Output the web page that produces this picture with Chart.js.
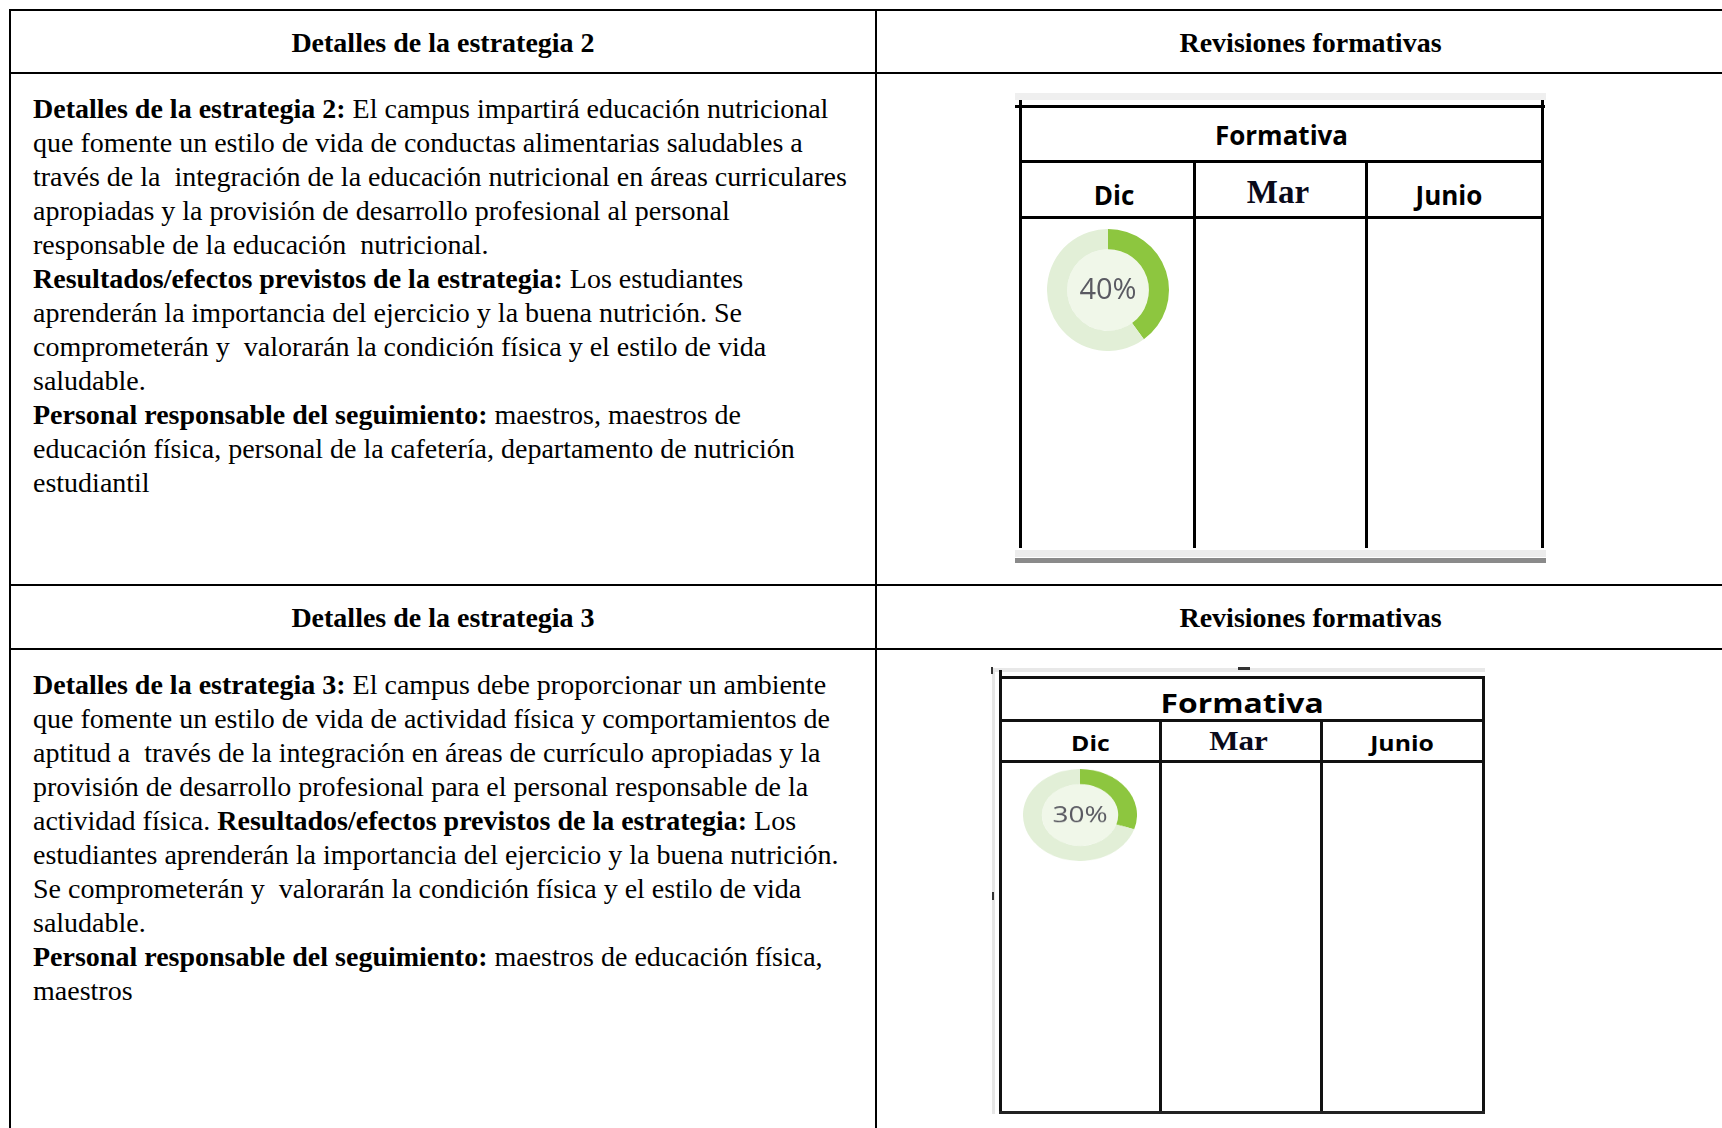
<!DOCTYPE html>
<html lang="es">
<head>
<meta charset="utf-8">
<title>Revisiones formativas</title>
<script src="https://cdn.jsdelivr.net/npm/chart.js@4.4.1/dist/chart.umd.min.js"></script>
<style>
html, body { margin: 0; padding: 0; background: #fff; }
body { width: 1722px; height: 1128px; overflow: hidden; position: relative;
       font-family: "Liberation Serif", "Times New Roman", serif; color: #000; }
.ln { position: absolute; background: #000; }
.hdr { position: absolute; font-weight: bold; font-size: 28px; text-align: center; white-space: nowrap; }
.txt { position: absolute; left: 33px; font-size: 28px; line-height: 34px; }
.txt div { height: 34px; white-space: pre; }
.txt b { font-weight: bold; }
.lbl { position: absolute; height: 40px; line-height: 40px; text-align: center; white-space: nowrap;
       font-family: "Open Sans", sans-serif; font-weight: bold; }
.lbl span { display: inline-block; }
.serif { font-family: "Liberation Serif", "Times New Roman", serif; color: #0a0a1a; }
.donut { position: absolute; }
</style>
</head>
<body>

<!-- tabla exterior -->
<div class="ln" style="left:9px;top:9px;width:1740px;height:2px"></div>
<div class="ln" style="left:9px;top:9px;width:2px;height:1130px"></div>
<div class="ln" style="left:875px;top:9px;width:2px;height:1130px"></div>
<div class="ln" style="left:9px;top:72px;width:1740px;height:2px"></div>
<div class="ln" style="left:9px;top:584px;width:1740px;height:2px"></div>
<div class="ln" style="left:9px;top:648px;width:1740px;height:2px"></div>

<div class="hdr" style="left:11px;width:864px;top:12px;line-height:61px">Detalles de la estrategia 2</div>
<div class="hdr" style="left:877px;width:867px;top:12px;line-height:61px">Revisiones formativas</div>
<div class="hdr" style="left:11px;width:864px;top:587px;line-height:62px">Detalles de la estrategia 3</div>
<div class="hdr" style="left:877px;width:867px;top:587px;line-height:62px">Revisiones formativas</div>

<div class="txt" id="bloque2" style="top:92px"></div>
<div class="txt" id="bloque3" style="top:668px"></div>

<!-- cuadro formativo 1 -->
<div class="ln" style="left:1015px;top:93px;width:531px;height:7px;background:#efefef"></div>
<div class="ln" style="left:1015px;top:105px;width:530px;height:3px"></div>
<div class="ln" style="left:1019px;top:100px;width:3px;height:448px"></div>
<div class="ln" style="left:1541px;top:100px;width:3px;height:448px"></div>
<div class="ln" style="left:1019px;top:160px;width:525px;height:3px"></div>
<div class="ln" style="left:1019px;top:216px;width:525px;height:3px"></div>
<div class="ln" style="left:1193px;top:160px;width:3px;height:388px"></div>
<div class="ln" style="left:1365px;top:160px;width:3px;height:388px"></div>
<div class="ln" style="left:1015px;top:550px;width:531px;height:7px;background:#ececec"></div>
<div class="ln" style="left:1015px;top:558px;width:531px;height:5px;background:#8a8a8a"></div>

<div class="lbl" id="t1" style="left:1022px;width:519px;top:115px;font-size:26px"></div>
<div class="lbl" id="m1a" style="left:1054px;width:120px;top:175px;font-size:26px"></div>
<div class="lbl serif" id="m1b" style="left:1218px;width:120px;top:172px;font-size:33px"></div>
<div class="lbl" id="m1c" style="left:1389px;width:120px;top:175px;font-size:26px"></div>

<div class="donut" style="left:1047px;top:229px;width:122px;height:122px">
  <canvas id="dona1" width="122" height="122"></canvas>
</div>

<!-- cuadro formativo 2 -->
<div class="ln" style="left:993px;top:668px;width:492px;height:4px;background:#e8e8e8"></div>
<div class="ln" style="left:992px;top:668px;width:3px;height:446px;background:#e6e6e6"></div>
<div class="ln" style="left:991px;top:667px;width:2px;height:7px;background:#333"></div>
<div class="ln" style="left:992px;top:892px;width:2px;height:8px;background:#333"></div>
<div class="ln" style="left:1238px;top:667px;width:12px;height:3px;background:#333"></div>
<div class="ln" style="left:999px;top:676px;width:486px;height:3px;background:#111"></div>
<div class="ln" style="left:999px;top:670px;width:3px;height:444px;background:#111"></div>
<div class="ln" style="left:1482px;top:676px;width:3px;height:438px;background:#111"></div>
<div class="ln" style="left:999px;top:719px;width:486px;height:3px;background:#111"></div>
<div class="ln" style="left:999px;top:760px;width:486px;height:3px;background:#111"></div>
<div class="ln" style="left:1159px;top:719px;width:3px;height:395px;background:#111"></div>
<div class="ln" style="left:1320px;top:719px;width:3px;height:395px;background:#111"></div>
<div class="ln" style="left:999px;top:1111px;width:486px;height:3px;background:#222"></div>

<div class="lbl" id="t2" style="left:1002px;width:480px;top:683px;font-size:27px"></div>
<div class="lbl" id="m2a" style="left:1030px;width:120px;top:723px;font-size:21px"></div>
<div class="lbl serif" id="m2b" style="left:1178px;width:120px;top:721px;font-size:27px"></div>
<div class="lbl" id="m2c" style="left:1342px;width:120px;top:723px;font-size:21px"></div>

<div class="donut" style="left:1023px;top:758px;width:114px;height:114px;transform:scaleY(0.807);transform-origin:50% 50%">
  <canvas id="dona2" width="114" height="114"></canvas>
</div>

<script>
// datos
var titulo = "Formativa";
var meses = ["Dic", "Mar", "Junio"];
var estrategias = ["Estrategia 2", "Estrategia 3"];
var avanceDic = [40, 30];   // % en diciembre
var colorAvance = "#8dc63f";
var colorResto = "#e2efd7";
var colorCentro = "#f0f7e9";

// renglones: [negrita, normal]
var texto2 = [
    ["Detalles de la estrategia 2:", " El campus impartirá educación nutricional"],
    ["", "que fomente un estilo de vida de conductas alimentarias saludables a"],
    ["", "través de la  integración de la educación nutricional en áreas curriculares"],
    ["", "apropiadas y la provisión de desarrollo profesional al personal"],
    ["", "responsable de la educación  nutricional."],
    ["Resultados/efectos previstos de la estrategia:", " Los estudiantes"],
    ["", "aprenderán la importancia del ejercicio y la buena nutrición. Se"],
    ["", "comprometerán y  valorarán la condición física y el estilo de vida"],
    ["", "saludable."],
    ["Personal responsable del seguimiento:", " maestros, maestros de"],
    ["", "educación física, personal de la cafetería, departamento de nutrición"],
    ["", "estudiantil"]
];
var texto3 = [
    ["Detalles de la estrategia 3:", " El campus debe proporcionar un ambiente"],
    ["", "que fomente un estilo de vida de actividad física y comportamientos de"],
    ["", "aptitud a  través de la integración en áreas de currículo apropiadas y la"],
    ["", "provisión de desarrollo profesional para el personal responsable de la"],
    ["", "actividad física. ", "Resultados/efectos previstos de la estrategia:", " Los"],
    ["", "estudiantes aprenderán la importancia del ejercicio y la buena nutrición."],
    ["", "Se comprometerán y  valorarán la condición física y el estilo de vida"],
    ["", "saludable."],
    ["Personal responsable del seguimiento:", " maestros de educación física,"],
    ["", "maestros"]
];

function ponerBloque(id, renglones) {
    var caja = document.getElementById(id);
    renglones.forEach(function(r) {
        var d = document.createElement("div");
        for (var k = 0; k < r.length; k++) {
            if (!r[k]) continue;
            var s = document.createElement(k % 2 == 0 ? "b" : "span");
            s.textContent = r[k];
            d.appendChild(s);
        }
        caja.appendChild(d);
    });
}
ponerBloque("bloque2", texto2);
ponerBloque("bloque3", texto3);

// textos de los cuadros
function ponerTexto(id, txt, sx) {
    var el = document.getElementById(id);
    var s = document.createElement("span");
    s.textContent = txt;
    if (sx) s.style.transform = "scaleX(" + sx + ")";
    el.appendChild(s);
}
ponerTexto("t1", titulo);
ponerTexto("m1a", meses[0]);
ponerTexto("m1b", meses[1]);
ponerTexto("m1c", meses[2]);
ponerTexto("t2", titulo, 1.18);
ponerTexto("m2a", meses[0], 1.18);
ponerTexto("m2b", meses[1], 1.15);
ponerTexto("m2c", meses[2], 1.18);

// centro claro + porcentaje
var centroPlugin = {
    id: "centro",
    beforeDatasetsDraw: function(chart) {
        var arc = chart.getDatasetMeta(0).data[0];
        if (!arc) return;
        var ctx = chart.ctx;
        ctx.save();
        ctx.beginPath();
        ctx.arc(arc.x, arc.y, arc.innerRadius, 0, Math.PI * 2);
        ctx.fillStyle = colorCentro;
        ctx.fill();
        ctx.restore();
    },
    afterDraw: function(chart, args, opts) {
        var arc = chart.getDatasetMeta(0).data[0];
        if (!arc) return;
        var ctx = chart.ctx;
        ctx.save();
        ctx.font = opts.size + 'px "Open Sans", sans-serif';
        ctx.fillStyle = "#5a5a62";
        ctx.textAlign = "center";
        ctx.textBaseline = "middle";
        ctx.fillText(chart.data.datasets[0].data[0] + "%", arc.x, arc.y + 1);
        ctx.restore();
    }
};

function hacerDona(id, i, size) {
    return new Chart(document.getElementById(id), {
        type: "doughnut",
        data: {
            labels: [estrategias[i] + " " + meses[0], "Pendiente"],
            datasets: [{
                data: [avanceDic[i], 100 - avanceDic[i]],
                backgroundColor: [colorAvance, colorResto],
                borderWidth: 0,
                hoverOffset: 0,
                offset: 0
            }]
        },
        options: {
            responsive: false,
            animation: false,
            cutout: "67%",
            layout: { padding: 0 },
            plugins: {
                legend: { display: false },
                tooltip: { enabled: false },
                centro: { size: size }
            }
        },
        plugins: [centroPlugin]
    });
}

hacerDona("dona1", 0, 29);
hacerDona("dona2", 1, 28);
</script>
</body>
</html>
